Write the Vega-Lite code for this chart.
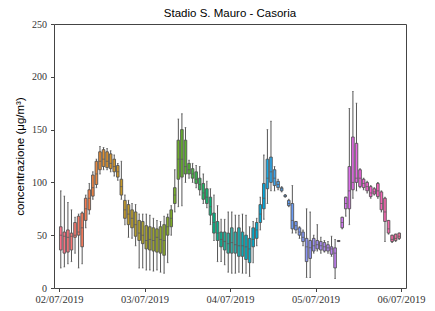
{
  "$schema": "https://vega.github.io/schema/vega-lite/v6.json",
  "width": 352,
  "height": 264,
  "autosize": {"type": "none"},
  "padding": {"left": 54, "top": 24, "right": 29, "bottom": 23},
  "background": "white",
  "title": {"text": "Stadio S. Mauro - Casoria", "font": "Liberation Sans", "fontSize": 11.5, "fontWeight": "normal", "color": "#000", "offset": 0, "anchor": "middle"},
  "config": {
    "view": {"stroke": "#444", "strokeWidth": 1},
    "axis": {"grid": false, "domain": false, "tickColor": "#444", "tickSize": 3.5, "labelColor": "#333", "labelFont": "Liberation Serif"}
  },
  "data": {"values": [
    {"h":0,"lo":19,"q1":36,"med":50,"q3":58,"hi":92},
    {"h":1,"lo":20,"q1":33,"med":49,"q3":53,"hi":87},
    {"h":2,"lo":23,"q1":34,"med":48,"q3":55,"hi":81},
    {"h":3,"lo":25,"q1":36,"med":49,"q3":52,"hi":74},
    {"h":4,"lo":33,"q1":48,"med":50,"q3":62,"hi":67},
    {"h":5,"lo":19,"q1":50,"med":53,"q3":68,"hi":70},
    {"h":6,"lo":23,"q1":39,"med":57,"q3":71,"hi":72},
    {"h":7,"lo":57,"q1":64,"med":75,"q3":85,"hi":88},
    {"h":8,"lo":70,"q1":74,"med":85,"q3":93,"hi":99},
    {"h":9,"lo":84,"q1":87,"med":95,"q3":107,"hi":110},
    {"h":10,"lo":95,"q1":98,"med":108,"q3":120,"hi":122},
    {"h":11,"lo":108,"q1":112,"med":120,"q3":129,"hi":134},
    {"h":12,"lo":112,"q1":115,"med":122,"q3":131,"hi":133},
    {"h":13,"lo":112,"q1":114,"med":120,"q3":129,"hi":132},
    {"h":14,"lo":110,"q1":113,"med":118,"q3":127,"hi":130},
    {"h":15,"lo":106,"q1":110,"med":115,"q3":122,"hi":126},
    {"h":16,"lo":102,"q1":105,"med":110,"q3":116,"hi":118},
    {"h":17,"lo":84,"q1":88,"med":96,"q3":103,"hi":120},
    {"h":18,"lo":60,"q1":66,"med":74,"q3":83,"hi":88},
    {"h":19,"lo":48,"q1":60,"med":70,"q3":79,"hi":83},
    {"h":20,"lo":47,"q1":57,"med":66,"q3":74,"hi":80},
    {"h":21,"lo":40,"q1":49,"med":60,"q3":72,"hi":79},
    {"h":22,"lo":19,"q1":45,"med":52,"q3":64,"hi":70},
    {"h":23,"lo":19,"q1":42,"med":50,"q3":63,"hi":70},
    {"h":24,"lo":17,"q1":37,"med":45,"q3":59,"hi":70},
    {"h":25,"lo":17,"q1":36,"med":46,"q3":58,"hi":69},
    {"h":26,"lo":16,"q1":35,"med":45,"q3":57,"hi":66},
    {"h":27,"lo":17,"q1":34,"med":48,"q3":56,"hi":64},
    {"h":28,"lo":15,"q1":33,"med":46,"q3":58,"hi":63},
    {"h":29,"lo":14,"q1":31,"med":45,"q3":60,"hi":68},
    {"h":30,"lo":24,"q1":50,"med":58,"q3":67,"hi":70},
    {"h":31,"lo":50,"q1":58,"med":66,"q3":74,"hi":78},
    {"h":32,"lo":72,"q1":80,"med":88,"q3":95,"hi":112},
    {"h":33,"lo":77,"q1":103,"med":122,"q3":140,"hi":160},
    {"h":34,"lo":78,"q1":105,"med":122,"q3":150,"hi":165},
    {"h":35,"lo":100,"q1":108,"med":115,"q3":140,"hi":152},
    {"h":36,"lo":104,"q1":108,"med":112,"q3":118,"hi":121},
    {"h":37,"lo":100,"q1":104,"med":108,"q3":113,"hi":118},
    {"h":38,"lo":95,"q1":99,"med":103,"q3":110,"hi":116},
    {"h":39,"lo":88,"q1":93,"med":98,"q3":104,"hi":115},
    {"h":40,"lo":80,"q1":84,"med":90,"q3":99,"hi":108},
    {"h":41,"lo":76,"q1":80,"med":86,"q3":94,"hi":101},
    {"h":42,"lo":60,"q1":69,"med":77,"q3":86,"hi":94},
    {"h":43,"lo":45,"q1":52,"med":62,"q3":71,"hi":88},
    {"h":44,"lo":25,"q1":45,"med":52,"q3":63,"hi":78},
    {"h":45,"lo":25,"q1":39,"med":46,"q3":53,"hi":65},
    {"h":46,"lo":22,"q1":36,"med":44,"q3":53,"hi":65},
    {"h":47,"lo":15,"q1":33,"med":42,"q3":52,"hi":72},
    {"h":48,"lo":14,"q1":33,"med":43,"q3":57,"hi":72},
    {"h":49,"lo":14,"q1":33,"med":41,"q3":53,"hi":69},
    {"h":50,"lo":15,"q1":30,"med":40,"q3":57,"hi":69},
    {"h":51,"lo":14,"q1":30,"med":40,"q3":53,"hi":70},
    {"h":52,"lo":14,"q1":27,"med":39,"q3":50,"hi":69},
    {"h":53,"lo":11,"q1":24,"med":37,"q3":47,"hi":58},
    {"h":54,"lo":24,"q1":39,"med":46,"q3":57,"hi":63},
    {"h":55,"lo":40,"q1":47,"med":55,"q3":62,"hi":66},
    {"h":56,"lo":55,"q1":62,"med":70,"q3":79,"hi":86},
    {"h":57,"lo":65,"q1":75,"med":85,"q3":99,"hi":126},
    {"h":58,"lo":80,"q1":94,"med":104,"q3":122,"hi":150},
    {"h":59,"lo":92,"q1":100,"med":110,"q3":124,"hi":158},
    {"h":60,"lo":92,"q1":97,"med":104,"q3":112,"hi":115},
    {"h":61,"lo":93,"q1":95,"med":98,"q3":101,"hi":103},
    {"h":62,"lo":91,"q1":92,"med":94,"q3":95,"hi":96},
    {"h":63,"lo":86,"q1":86.5,"med":87,"q3":88,"hi":88.5},
    {"h":64,"lo":77,"q1":78,"med":80,"q3":83,"hi":84},
    {"h":65,"lo":52,"q1":56,"med":64,"q3":80,"hi":97},
    {"h":66,"lo":52,"q1":55,"med":59,"q3":63,"hi":63},
    {"h":67,"lo":47,"q1":50,"med":53,"q3":57,"hi":58},
    {"h":68,"lo":40,"q1":44,"med":48,"q3":53,"hi":55},
    {"h":69,"lo":10,"q1":25,"med":39,"q3":47,"hi":75},
    {"h":70,"lo":10,"q1":28,"med":38,"q3":45,"hi":72},
    {"h":71,"lo":33,"q1":35,"med":40,"q3":47,"hi":50},
    {"h":72,"lo":35,"q1":37,"med":41,"q3":45,"hi":60},
    {"h":73,"lo":33,"q1":36,"med":40,"q3":44,"hi":48},
    {"h":74,"lo":34,"q1":35,"med":39,"q3":43,"hi":45},
    {"h":75,"lo":33,"q1":35,"med":38,"q3":41,"hi":44},
    {"h":76,"lo":30,"q1":32,"med":37,"q3":39,"hi":49},
    {"h":77,"lo":9,"q1":19,"med":33,"q3":38,"hi":46},
    {"h":78,"lo":44,"q1":44,"med":44.5,"q3":45,"hi":45},
    {"h":79,"lo":56,"q1":57,"med":62,"q3":67,"hi":67},
    {"h":80,"lo":68,"q1":75,"med":80,"q3":86,"hi":86},
    {"h":81,"lo":60,"q1":75,"med":92,"q3":115,"hi":170},
    {"h":82,"lo":85,"q1":93,"med":100,"q3":143,"hi":186},
    {"h":83,"lo":92,"q1":100,"med":104,"q3":137,"hi":175},
    {"h":84,"lo":95,"q1":96,"med":104,"q3":112,"hi":113},
    {"h":85,"lo":93,"q1":95,"med":99,"q3":103,"hi":104},
    {"h":86,"lo":90,"q1":92,"med":96,"q3":100,"hi":101},
    {"h":87,"lo":85,"q1":86.5,"med":90,"q3":96,"hi":97},
    {"h":88,"lo":88,"q1":89,"med":91,"q3":94,"hi":95},
    {"h":89,"lo":85,"q1":86.5,"med":92,"q3":99,"hi":100},
    {"h":90,"lo":72,"q1":74,"med":80,"q3":91,"hi":92},
    {"h":91,"lo":44,"q1":63,"med":72,"q3":85,"hi":86},
    {"h":92,"lo":51,"q1":52,"med":56,"q3":64,"hi":64},
    {"h":93,"lo":43,"q1":44,"med":46,"q3":50,"hi":50},
    {"h":94,"lo":44,"q1":45,"med":47,"q3":51,"hi":51},
    {"h":95,"lo":46,"q1":47,"med":49,"q3":52,"hi":52}
  ]},
  "encoding": {
    "x": {
      "field": "h", "type": "quantitative",
      "scale": {"domain": [-0.5, 95.5], "nice": false, "zero": false},
      "axis": {
        "title": null,
        "values": [-0.5, 23.5, 47.5, 71.5, 95.5],
        "labelExpr": "['02/07/2019','03/07/2019','04/07/2019','05/07/2019','06/07/2019'][round((datum.value + 0.5) / 24)]",
        "labelFontSize": 10.5, "labelPadding": 3,
        "labelOverlap": false, "labelFlush": false, "labelBound": false
      }
    }
  },
  "layer": [
    {
      "mark": {"type": "rule", "color": "#555", "strokeWidth": 1},
      "encoding": {
        "y": {
          "field": "lo", "type": "quantitative",
          "scale": {"domain": [0, 250], "nice": false},
          "axis": {
            "values": [0, 50, 100, 150, 200, 250],
            "labelFontSize": 10, "labelPadding": 4,
            "title": "concentrazione (μg/m³)",
            "titleFont": "Liberation Sans", "titleFontSize": 11.5, "titleFontWeight": "normal",
            "titleColor": "#000", "titlePadding": 6
          }
        },
        "y2": {"field": "hi"}
      }
    },
    {
      "mark": {"type": "tick", "orient": "horizontal", "color": "#555", "size": 1.6, "thickness": 1},
      "encoding": {"y": {"field": "lo", "type": "quantitative"}}
    },
    {
      "mark": {"type": "tick", "orient": "horizontal", "color": "#555", "size": 1.6, "thickness": 1},
      "encoding": {"y": {"field": "hi", "type": "quantitative"}}
    },
    {
      "mark": {"type": "bar", "width": 2.6, "stroke": "#555", "strokeWidth": 0.9, "opacity": 1},
      "encoding": {
        "y": {"field": "q1", "type": "quantitative"},
        "y2": {"field": "q3"},
        "color": {
          "field": "h", "type": "quantitative", "legend": null,
          "scale": {
            "domain": [0, 12, 24, 36, 48, 60, 72, 84, 95],
            "range": ["#f77189", "#e08f2e", "#a4a031", "#50b131", "#36ada4", "#3ba3ec", "#a08cf0", "#f060e0", "#f06e9a"],
            "interpolate": "hcl"
          }
        }
      }
    },
    {
      "mark": {"type": "tick", "orient": "horizontal", "color": "#555", "size": 2.6, "thickness": 1},
      "encoding": {"y": {"field": "med", "type": "quantitative"}}
    }
  ]
}
